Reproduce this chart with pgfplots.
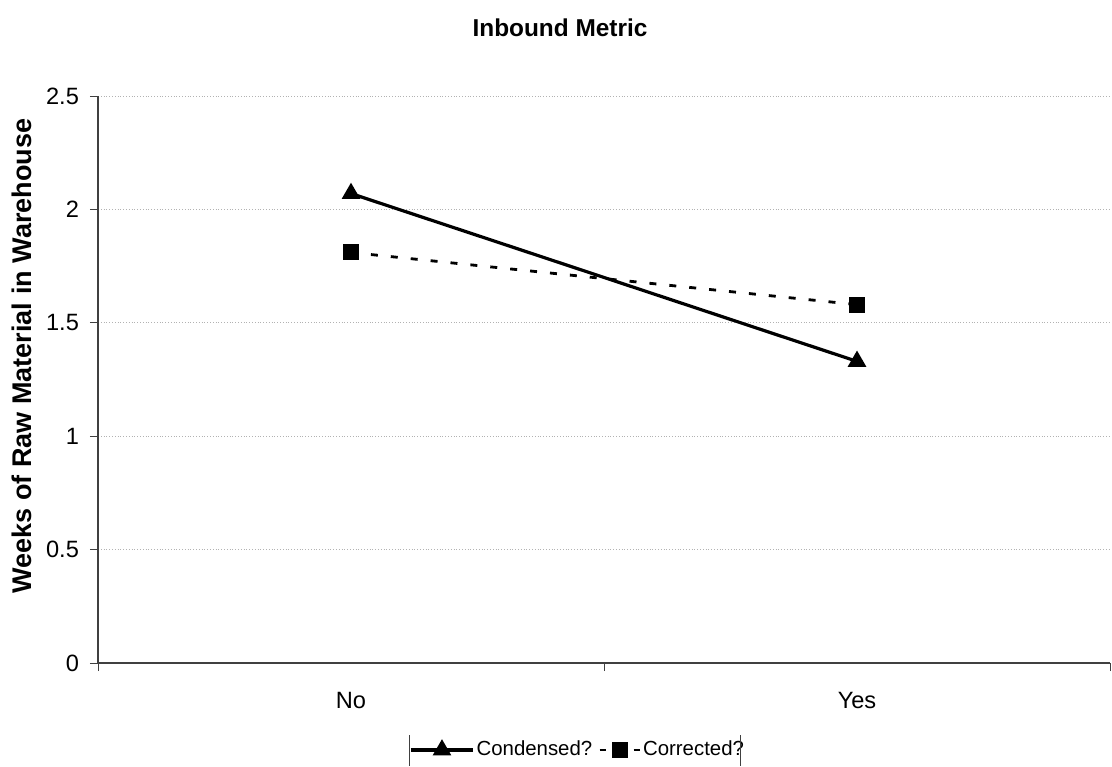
\documentclass[border=0pt]{standalone}
\usepackage{pgfplots}
\pgfplotsset{compat=1.18}
\usepackage{fontspec}
\setmainfont{Liberation Sans}
\pgfplotsset{
  condleg/.style={legend image code/.code={\draw[##1] (0pt,0pt) -- (31pt,0pt); \path[##1,solid] plot coordinates {(15.5pt,0pt)};}},
  corrleg/.style={legend image code/.code={\draw[##1,solid] (0pt,0pt) -- (3pt,0pt); \draw[##1,solid] (17pt,0pt) -- (20pt,0pt); \path[##1,solid] plot coordinates {(10pt,0pt)};}},
}
\begin{document}
\begin{tikzpicture}
\useasboundingbox (-49pt,-51.5pt) rectangle (507pt,331.5pt);
\begin{axis}[
  at={(0,0)}, anchor=south west,
  scale only axis, width=506pt, height=283.5pt,
  xmin=-0.5, xmax=1.5, ymin=0, ymax=2.5,
  xtick={-0.5,0.5,1.5}, xticklabels={},
  extra x ticks={0,1}, extra x tick labels={No,Yes},
  extra x tick style={major tick length=0pt, grid=none},
  ytick={0,0.5,1,1.5,2,2.5},
  yticklabels={0,0.5,1,1.5,2,2.5},
  axis x line=bottom, axis y line=left,
  axis line style={-, black!75, line width=0.6pt},
  tick style={black!75, line width=0.5pt},
  major tick length=4pt,
  tick align=outside,
  ymajorgrids,
  grid style={gray!60, densely dotted, line width=0.5pt},
  every tick label/.append style={font=\fontsize{11.8}{13}\selectfont},
  xticklabel style={yshift=-11pt},
  yticklabel style={xshift=-2pt},
  /pgf/number format/assume math mode=true,
  legend style={at={(rel axis cs:0.474,0)}, anchor=center, yshift=-43.5pt,
     draw=none, font=\fontsize{10.2}{13}\selectfont, inner sep=0.5pt,
     nodes={inner xsep=1pt},
     legend cell align=left, /tikz/every even column/.append style={column sep=2pt}},
  legend columns=2,
]
\addplot[black, line width=1.6pt, mark=triangle*, mark size=3.8pt, mark options={solid}, condleg]
  coordinates {(0,2.07) (1,1.33)};
\addlegendentry{Condensed?}
\addplot[black, line width=1.4pt, dash pattern=on 3.5pt off 6.5pt, mark=square*, mark size=3.3pt, mark options={solid}, corrleg]
  coordinates {(0,1.81) (1,1.58)};
\addlegendentry{Corrected?}
\end{axis}
\node[font=\fontsize{12.2}{14}\selectfont\bfseries] at (231pt,317.5pt) {Inbound Metric};
\node[font=\fontsize{13.5}{15}\selectfont\bfseries, rotate=90] at (-38pt,153.5pt) {Weeks of Raw Material in Warehouse};
\draw[black!75, line width=0.5pt] (155.5pt,-36pt) -- (155.5pt,-51.5pt);
\draw[black!75, line width=0.5pt] (321pt,-36pt) -- (321pt,-51.5pt);
\end{tikzpicture}
\end{document}
